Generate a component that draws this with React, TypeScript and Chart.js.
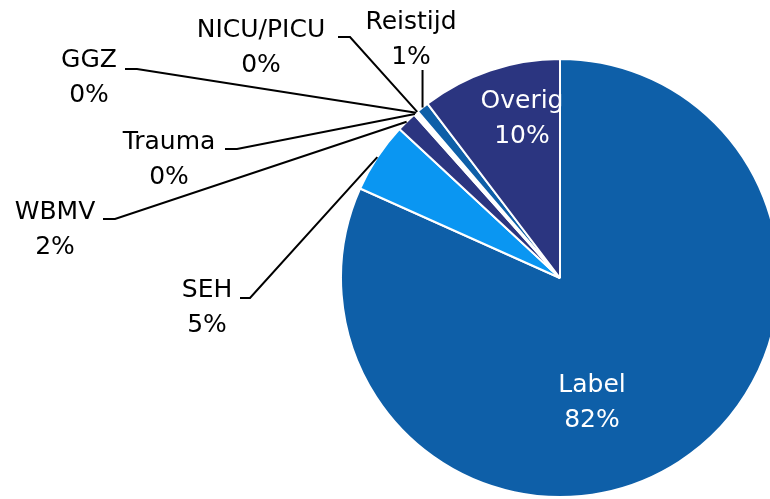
import React, { useEffect, useRef } from "react";
import { Chart, registerables } from "chart.js";

Chart.register(...registerables);

const categories = ["Label", "SEH", "WBMV", "Trauma", "GGZ", "NICU/PICU", "Reistijd", "Overig"];
const values = [81.7, 5.2, 1.5, 0.15, 0.1, 0.1, 0.9, 10.35];
const colors = ["#0E5FA8", "#0A96F2", "#2B3580", "#FFFFFF", "#FFFFFF", "#FFFFFF", "#0E5FA8", "#2B3580"];

// Label layout (text centre of first line; leader path from text side toward slice)
const labelLayout: { x: number; y: number; color: string; path?: number[][]; vertical?: number }[] = [
  { x: 592, y: 385, color: "#ffffff" },
  { x: 207, y: 290, color: "#000000", path: [[240, 298], [250, 298]] },
  { x: 55, y: 212, color: "#000000", path: [[103, 219], [115, 219]] },
  { x: 169, y: 142, color: "#000000", path: [[225, 149], [237, 149]] },
  { x: 89, y: 60, color: "#000000", path: [[125, 69], [137, 69]] },
  { x: 261, y: 30, color: "#000000", path: [[338, 37], [350, 37]] },
  { x: 411, y: 22, color: "#000000", vertical: 70 },
  { x: 522, y: 101, color: "#ffffff" },
];

const FONT = '25px "DejaVu Sans", Verdana, sans-serif';
const LINE_GAP = 35;

const labelPlugin = {
  id: "pieLabels",
  afterDatasetsDraw(chart: any) {
    const ctx = chart.ctx;
    const meta = chart.getDatasetMeta(0);
    ctx.save();
    ctx.font = FONT;
    ctx.textAlign = "center";
    ctx.textBaseline = "middle";
    meta.data.forEach((arc: any, i: number) => {
      const p = arc.getProps(["x", "y", "startAngle", "endAngle", "outerRadius"], true);
      const mid = (p.startAngle + p.endAngle) / 2;
      const ex = p.x + Math.cos(mid) * p.outerRadius;
      const ey = p.y + Math.sin(mid) * p.outerRadius;
      const lay = labelLayout[i];
      ctx.strokeStyle = "#000";
      ctx.lineWidth = 2;
      if (lay.path) {
        ctx.beginPath();
        ctx.moveTo(lay.path[0][0], lay.path[0][1]);
        for (let k = 1; k < lay.path.length; k++) ctx.lineTo(lay.path[k][0], lay.path[k][1]);
        ctx.lineTo(ex, ey);
        ctx.stroke();
      } else if (lay.vertical !== undefined) {
        ctx.beginPath();
        ctx.moveTo(ex, lay.vertical);
        ctx.lineTo(ex, ey);
        ctx.stroke();
      }
      ctx.fillStyle = lay.color;
      ctx.fillText(categories[i], lay.x, lay.y);
      ctx.fillText(Math.round(values[i]) + "%", lay.x, lay.y + LINE_GAP);
    });
    ctx.restore();
  },
};

export default function App() {
  const ref = useRef<HTMLCanvasElement>(null);
  useEffect(() => {
    if (!ref.current) return;
    const chart = new Chart(ref.current, {
      type: "pie",
      data: {
        labels: categories,
        datasets: [
          {
            data: values,
            backgroundColor: colors,
            borderColor: "#ffffff",
            borderWidth: 2,
          },
        ],
      },
      options: {
        responsive: false,
        animation: false,
        layout: { padding: { left: 340, right: 20, top: 58, bottom: 1 } },
        plugins: {
          legend: { display: false },
          tooltip: { enabled: false },
        },
      },
      plugins: [labelPlugin],
    });
    return () => chart.destroy();
  }, []);
  return (
    <div style={{ position: "absolute", left: 0, top: 0, width: 770, height: 499, overflow: "hidden", background: "#fff" }}>
      <canvas ref={ref} width={800} height={499} style={{ display: "block" }} />
    </div>
  );
}
